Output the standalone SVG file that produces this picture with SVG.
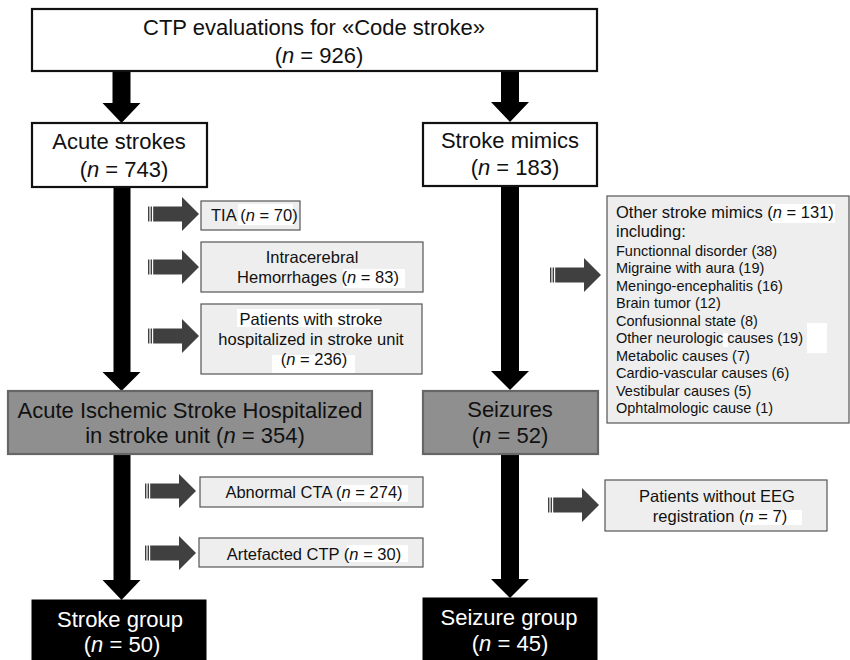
<svg xmlns="http://www.w3.org/2000/svg" xmlns:xlink="http://www.w3.org/1999/xlink" width="850" height="660" viewBox="0 0 850 660">
<style>
text{font-family:"Liberation Sans",Arial,sans-serif;fill:#111}
.big{font-size:22px;text-anchor:middle}
.sm{font-size:16.5px}
.smc{font-size:16.5px;text-anchor:middle}
.xs{font-size:14.5px}
.wt{fill:#fff}
.i{font-style:italic}
.white{fill:#ffffff;stroke:#111;stroke-width:2.2}
.gray{fill:#8f8f8f;stroke:#666;stroke-width:2.2}
.light{fill:#eeeeee;stroke:#555;stroke-width:1.2}
.black{fill:#000;stroke:#000;stroke-width:1}
.hl{fill:#fff}
.bigarr{fill:#000}
</style>
<defs>
<g id="garr" fill="#404040">
<rect x="0" y="-7.5" width="1.4" height="15"/>
<rect x="2.6" y="-7.5" width="1.4" height="15"/>
<path d="M5.2,-7.5 H34 V-17 L51,0 L34,17 V7.5 H5.2 Z"/>
</g>
</defs>
<rect width="850" height="660" fill="#fff"/>

<g id="connectors">
<path class="bigarr" d="M112.5,71 H130.5 V103 H140.5 L121.5,123 L102.5,103 H112.5 Z"/>
<path class="bigarr" d="M501,71 H519 V102 H529 L510,122 L491,102 H501 Z"/>
<path class="bigarr" d="M113.5,187 H130.5 V372 H140.5 L121.5,391 L102.5,372 H113.5 Z"/>
<path class="bigarr" d="M501,186 H519 V371 H529 L510,390 L491,371 H501 Z"/>
<path class="bigarr" d="M113.5,454 H130.5 V580 H140.5 L121.5,600 L102.5,580 H113.5 Z"/>
<path class="bigarr" d="M501,454 H519 V579 H529 L510,598 L491,579 H501 Z"/>
<use xlink:href="#garr" x="148" y="214"/>
<use xlink:href="#garr" x="148" y="267"/>
<use xlink:href="#garr" x="148" y="336"/>
<use xlink:href="#garr" x="145" y="491"/>
<use xlink:href="#garr" x="145" y="553"/>
<use xlink:href="#garr" x="550" y="275"/>
<use xlink:href="#garr" x="548" y="505"/>
</g>

<g id="n-ctp">
<rect class="white" x="32" y="9" width="565" height="62"/>
<text class="big" x="314" y="35">CTP evaluations for «Code stroke»</text>
<text class="big" x="319" y="63">(<tspan class="i">n</tspan> = 926)</text>
</g>

<g id="n-acute">
<rect class="white" x="32" y="123" width="175" height="64"/>
<text class="big" x="119" y="149">Acute strokes</text>
<text class="big" x="124" y="177">(<tspan class="i">n</tspan> = 743)</text>
</g>

<g id="n-mimics">
<rect class="white" x="423" y="123" width="174" height="63"/>
<text class="big" x="510" y="148">Stroke mimics</text>
<text class="big" x="515" y="175">(<tspan class="i">n</tspan> = 183)</text>
</g>

<g id="n-tia">
<rect class="light" x="201" y="201" width="99" height="29"/>
<rect class="hl" x="238" y="204" width="55" height="21"/>
<text class="sm" x="211" y="221">TIA (<tspan class="i">n</tspan> = 70)</text>
</g>

<g id="n-ich">
<rect class="light" x="201" y="242" width="222" height="50"/>
<rect class="hl" x="343" y="269" width="62" height="19"/>
<text class="smc" x="312" y="263">Intracerebral</text>
<text class="smc" x="318" y="283">Hemorrhages (<tspan class="i">n</tspan> = 83)</text>
</g>

<g id="n-patients">
<rect class="light" x="201" y="304" width="221" height="70"/>
<rect class="hl" x="237" y="309" width="143" height="18"/>
<rect class="hl" x="272" y="355" width="83" height="18"/>
<text class="smc" x="311" y="325">Patients with stroke</text>
<text class="smc" x="311" y="345">hospitalized in stroke unit</text>
<text class="smc" x="314" y="365">(<tspan class="i">n</tspan> = 236)</text>
</g>

<g id="n-ais">
<rect class="gray" x="8" y="391" width="364" height="63"/>
<text class="big" x="190" y="418">Acute Ischemic Stroke Hospitalized</text>
<text class="big" x="195" y="443">in stroke unit (<tspan class="i">n</tspan> = 354)</text>
</g>

<g id="n-seizures">
<rect class="gray" x="423" y="391" width="175" height="63"/>
<text class="big" x="510" y="417">Seizures</text>
<text class="big" x="510" y="443">(<tspan class="i">n</tspan> = 52)</text>
</g>

<g id="n-other">
<rect class="light" x="607" y="196" width="242" height="227"/>
<rect class="hl" x="771" y="204" width="64" height="19"/>
<rect class="hl" x="807" y="323" width="20" height="30"/>
<rect class="hl" x="723" y="333" width="5" height="14"/>
<text class="sm" x="616" y="218">Other stroke mimics (<tspan class="i">n</tspan> = 131)</text>
<text class="sm" x="616" y="237">including:</text>
<text class="xs" x="616" y="256">Functionnal disorder (38)</text>
<text class="xs" x="616" y="273">Migraine with aura (19)</text>
<text class="xs" x="616" y="291">Meningo-encephalitis (16)</text>
<text class="xs" x="616" y="308">Brain tumor (12)</text>
<text class="xs" x="616" y="326">Confusionnal state (8)</text>
<text class="xs" x="616" y="343">Other neurologic causes (19)</text>
<text class="xs" x="616" y="361">Metabolic causes (7)</text>
<text class="xs" x="616" y="378">Cardio-vascular causes (6)</text>
<text class="xs" x="616" y="396">Vestibular causes (5)</text>
<text class="xs" x="616" y="413">Ophtalmologic cause (1)</text>
</g>

<g id="n-cta">
<rect class="light" x="200" y="477" width="223" height="30"/>
<rect class="hl" x="338" y="485" width="70" height="17"/>
<text class="smc" x="314" y="498">Abnormal CTA (<tspan class="i">n</tspan> = 274)</text>
</g>

<g id="n-artefact">
<rect class="light" x="199" y="538" width="224" height="29"/>
<rect class="hl" x="347" y="545" width="61" height="17"/>
<text class="smc" x="314" y="560">Artefacted CTP (<tspan class="i">n</tspan> = 30)</text>
</g>

<g id="n-eeg">
<rect class="light" x="605" y="480" width="222" height="51"/>
<rect class="hl" x="740" y="510" width="62" height="15"/>
<text class="smc" x="717" y="502">Patients without EEG</text>
<text class="smc" x="720" y="522">registration (<tspan class="i">n</tspan> = 7)</text>
</g>

<g id="n-strokegroup">
<rect class="black" x="32" y="600" width="174" height="62"/>
<text class="big wt" x="120" y="627">Stroke group</text>
<text class="big wt" x="122" y="652">(<tspan class="i">n</tspan> = 50)</text>
</g>

<g id="n-seizuregroup">
<rect class="black" x="423" y="598" width="174" height="64"/>
<text class="big wt" x="509" y="625">Seizure group</text>
<text class="big wt" x="510" y="651">(<tspan class="i">n</tspan> = 45)</text>
</g>
</svg>
